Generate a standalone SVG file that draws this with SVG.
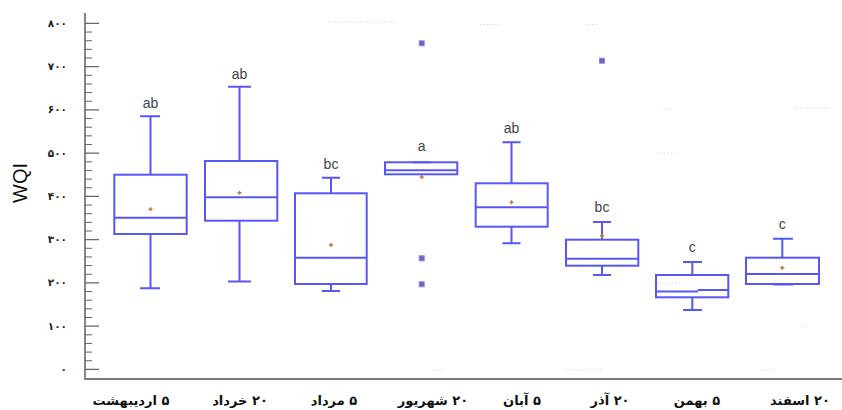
<svg xmlns="http://www.w3.org/2000/svg" width="842" height="410" viewBox="0 0 842 410">
<style>
.bx{fill:none;stroke:#5757f7;stroke-width:2}
.cap{stroke:#5757f7;stroke-width:2;fill:none}
.mean{stroke:#c07a3a;stroke-width:1.5}
.out{fill:#6a5fc8;stroke:#8a8ad8;stroke-width:1}
.lbl{font-family:"Liberation Sans",Arial,sans-serif;font-size:14px;fill:#444;text-anchor:middle}
.yt{font-family:"DejaVu Sans",sans-serif;font-size:10.5px;font-weight:bold;fill:#222;text-anchor:end}
.xt{font-family:"DejaVu Sans",sans-serif;font-size:13px;font-weight:bold;fill:#111;text-anchor:middle}
.grid{stroke:#dadada;stroke-width:1;stroke-dasharray:1.5 2;fill:none}
</style>
<rect width="842" height="410" fill="#fff"/>
<g id="faint-grid">
<path class="grid" d="M328 22h70M480 24.5h19M585 24.5h12M432 370h12M565 370h37M760 370h15M793 108h37M658 283h25M802 326h6M657 153h18M660 109h12"/>
</g>
<g id="axes">
<path d="M85 13V379H842" fill="none" stroke="#7a7a7a" stroke-width="1.8"/>
<path stroke="#666" stroke-width="1.2" fill="none" d="M85 369.4h14M85 326.15h14M85 282.9h14M85 239.65h14M85 196.4h14M85 153.15h14M85 109.9h14M85 66.65h14M85 23.4h14"/>
<path stroke="#666" stroke-width="1" fill="none" d="M85 360.75h7M85 352.1h7M85 343.45h7M85 334.8h7M85 317.5h7M85 308.85h7M85 300.2h7M85 291.55h7M85 274.25h7M85 265.6h7M85 256.95h7M85 248.3h7M85 231h7M85 222.35h7M85 213.7h7M85 205.05h7M85 187.75h7M85 179.1h7M85 170.45h7M85 161.8h7M85 144.5h7M85 135.85h7M85 127.2h7M85 118.55h7M85 101.25h7M85 92.6h7M85 83.95h7M85 75.3h7M85 58h7M85 49.35h7M85 40.7h7M85 32.05h7"/>
<text class="yt" x="67" y="372.9">۰</text>
<text class="yt" x="67" y="329.6">۱۰۰</text>
<text class="yt" x="67" y="286.4">۲۰۰</text>
<text class="yt" x="67" y="243.1">۳۰۰</text>
<text class="yt" x="67" y="199.9">۴۰۰</text>
<text class="yt" x="67" y="156.6">۵۰۰</text>
<text class="yt" x="67" y="113.4">۶۰۰</text>
<text class="yt" x="67" y="70.1">۷۰۰</text>
<text class="yt" x="67" y="26.9">۸۰۰</text>
<text transform="translate(27 183) rotate(-90)" font-family="Liberation Sans,Arial,sans-serif" font-size="20" fill="#111" text-anchor="middle">WQI</text>
</g>
<g id="xlabels">
<text class="xt" direction="rtl" x="131" y="405">۵ اردیبهشت</text>
<text class="xt" direction="rtl" x="240" y="405">۲۰ خرداد</text>
<text class="xt" direction="rtl" x="334" y="405">۵ مرداد</text>
<text class="xt" direction="rtl" x="433" y="405">۲۰ شهریور</text>
<text class="xt" direction="rtl" x="522" y="405">۵ آبان</text>
<text class="xt" direction="rtl" x="610" y="405">۲۰ آذر</text>
<text class="xt" direction="rtl" x="697" y="405">۵ بهمن</text>
<text class="xt" direction="rtl" x="800" y="405">۲۰ اسفند</text>
</g>
<g id="box1">
<rect class="bx" x="114.3" y="174.7" width="72.4" height="59.3"/>
<path class="cap" d="M114.3 217.7H186.7M150.5 116.3V174.7M150.5 234V288.3M140 116.3h20M140 288.3h20"/>
<path class="mean" d="M148.5 209.3h4M150.5 207.3v4"/>
<text class="lbl" x="150.5" y="108">ab</text>
</g>
<g id="box2">
<rect class="bx" x="205" y="161" width="72.3" height="59.7"/>
<path class="cap" d="M205 197.3H277.3M239.5 86.7V161M239.5 220.7V281.5M228 86.7h23M228 281.5h23"/>
<path class="mean" d="M237.5 192.7h4M239.5 190.7v4"/>
<text class="lbl" x="239.5" y="79">ab</text>
</g>
<g id="box3">
<rect class="bx" x="295" y="193.3" width="71.7" height="90.7"/>
<path class="cap" d="M295 257.7H366.7M331 177.7V193.3M331 284V291M322 177.7h18M322 291h18"/>
<path class="mean" d="M329 245h4M331 243v4"/>
<text class="lbl" x="331" y="169">bc</text>
</g>
<g id="box4">
<rect class="bx" x="385" y="162.3" width="72.3" height="12"/>
<path class="cap" d="M385 170.3H457.3"/>
<path class="cap" stroke-width="3" d="M412.7 162.3h18"/>
<path class="mean" d="M419.7 177h4M421.7 175v4"/>
<rect class="out" x="419.2" y="40.8" width="5" height="5"/>
<rect class="out" x="419.2" y="255.8" width="5" height="5"/>
<rect class="out" x="419.2" y="281.8" width="5" height="5"/>
<text class="lbl" x="421.7" y="151">a</text>
</g>
<g id="box5">
<rect class="bx" x="475.7" y="183.3" width="72" height="43.4"/>
<path class="cap" d="M475.7 207.3H547.7M511.5 142.3V183.3M511.5 226.7V243.3M502.5 142.3h18M502.5 243.3h18"/>
<path class="mean" d="M509.5 202.3h4M511.5 200.3v4"/>
<text class="lbl" x="511.5" y="133">ab</text>
</g>
<g id="box6">
<rect class="bx" x="566" y="239.7" width="72.3" height="26"/>
<path class="cap" d="M566 258.7H638.3M602 222V239.7M602 265.7V275M593 222h18M593 275h18"/>
<path class="mean" d="M600 235.7h4M602 233.7v4"/>
<rect class="out" x="599.5" y="58.2" width="5" height="5"/>
<text class="lbl" x="602" y="212">bc</text>
</g>
<g id="box7">
<rect class="bx" x="656" y="275" width="72.3" height="22.3"/>
<path class="cap" d="M656 291.5H698M698 290H728.3M692.3 262V275M692.3 297.3V310M683 262h19M683 310h19"/>
<text class="lbl" x="692.3" y="252">c</text>
</g>
<g id="box8">
<rect class="bx" x="746" y="257.7" width="73" height="26.3"/>
<path class="cap" d="M746 274H819M782.3 238.7V257.7M773 238.7h20"/>
<path class="cap" stroke-width="3" d="M773 284.5h20"/>
<path class="mean" d="M780.3 267.7h4M782.3 265.7v4"/>
<text class="lbl" x="782.3" y="228.5">c</text>
</g>
</svg>
